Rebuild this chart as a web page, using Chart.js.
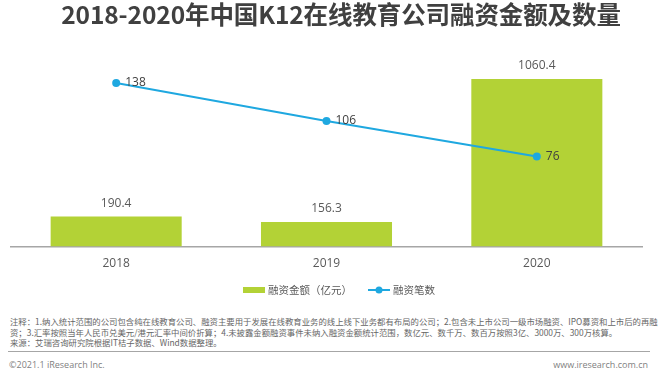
<!DOCTYPE html>
<html>
<head>
<meta charset="utf-8">
<script src="https://cdn.jsdelivr.net/npm/chart.js@4.4.0/dist/chart.umd.min.js"></script>
<style>
    body { margin: 0; background: #fff; }
    #wrap { position: relative; width: 660px; height: 377px; overflow: hidden; font-family: "Noto Sans CJK SC", "Open Sans", sans-serif; }
    #title { position: absolute; left: 0; width: 682px; top: -1px; text-align: center; font-size: 24.5px; font-weight: bold; color: #404040; line-height: 30px; letter-spacing: -0.1px; }
    #chartBox { position: absolute; left: 0; top: 0; width: 660px; height: 290px; }
    #legend { position: absolute; left: 0; width: 678px; top: 282px; display: flex; justify-content: center; align-items: center; font-size: 10.5px; color: #595959; }
    .lg-item { display: flex; align-items: center; margin: 0 8px; }
    .lg-item canvas { margin-right: 3px; }
    #notes { position: absolute; left: 10px; top: 316px; font-size: 8.4px; line-height: 10.5px; color: #666; white-space: nowrap; }
    #rule { position: absolute; left: 8px; right: 10px; top: 351px; height: 0; border-top: 1.5px solid #a6a6a6; }
    #copy { position: absolute; left: 9px; top: 358px; font-size: 9px; color: #7f7f7f; font-family: "Open Sans", sans-serif; }
    #site { position: absolute; right: 12px; top: 358px; font-size: 9px; color: #7f7f7f; font-family: "Open Sans", sans-serif; }
</style>
</head>
<body>
<div id="wrap">
    <div id="chartBox"><canvas id="fundingChart"></canvas></div>
    <div id="title">2018-2020年中国K12在线教育公司融资金额及数量</div>
    <div id="legend"></div>
    <div id="notes">注释：1.纳入统计范围的公司包含纯在线教育公司、融资主要用于发展在线教育业务的线上线下业务都有布局的公司；2.包含未上市公司一级市场融资、IPO募资和上市后的再融<br>资；3.汇率按照当年人民币兑美元/港元汇率中间价折算；4.未披露金额融资事件未纳入融资金额统计范围，数亿元、数千万、数百万按照3亿、3000万、300万核算。<br>来源：艾瑞咨询研究院根据IT桔子数据、Wind数据整理。</div>
    <div id="rule"></div>
    <div id="copy">©2021.1 iResearch Inc.</div>
    <div id="site">www.iresearch.com.cn</div>
</div>
<script>
// Chart data
const years = ['2018', '2019', '2020'];
const fundingAmount = [190.4, 156.3, 1060.4];   // 融资金额（亿元）
const fundingCount = [138, 106, 76];            // 融资笔数

const barLabel = '融资金额（亿元）';
const lineLabel = '融资笔数';
const barColor = '#b3d236';
const lineColor = '#1fa8e0';

// Value labels drawn next to bars and points
const valueLabels = {
    id: 'valueLabels',
    afterDatasetsDraw(chart) {
        const ctx = chart.ctx;
        ctx.save();
        ctx.font = '12px "Open Sans", "Noto Sans CJK SC", sans-serif';
        ctx.textBaseline = 'middle';

        const barMeta = chart.getDatasetMeta(1);
        ctx.fillStyle = '#595959';
        ctx.textAlign = 'center';
        barMeta.data.forEach((bar, i) => {
            ctx.fillText(fundingAmount[i].toFixed(1), bar.x, bar.y - 13);
        });

        const lineMeta = chart.getDatasetMeta(0);
        ctx.fillStyle = '#404040';
        ctx.textAlign = 'left';
        lineMeta.data.forEach((pt, i) => {
            ctx.fillText(String(fundingCount[i]), pt.x + 9, pt.y);
        });
        ctx.restore();
    }
};

function initializeFundingChart() {
    const ctx = document.getElementById('fundingChart');
    if (!ctx) return;

    new Chart(ctx, {
        data: {
            labels: years,
            datasets: [{
                type: 'line',
                label: lineLabel,
                data: fundingCount,
                yAxisID: 'yCount',
                borderColor: lineColor,
                backgroundColor: lineColor,
                borderWidth: 2,
                pointRadius: 4,
                pointHoverRadius: 4,
                pointBorderWidth: 0,
                tension: 0,
                order: 0
            }, {
                type: 'bar',
                label: barLabel,
                data: fundingAmount,
                yAxisID: 'yAmount',
                backgroundColor: barColor,
                categoryPercentage: 1,
                barPercentage: 0.623,
                order: 1
            }]
        },
        options: {
            responsive: true,
            maintainAspectRatio: false,
            animation: false,
            layout: {
                padding: { top: 57, left: 11, right: 18, bottom: 9 }
            },
            scales: {
                x: {
                    grid: { display: false, drawTicks: false },
                    border: { display: true, color: '#a6a6a6', width: 1.5 },
                    ticks: {
                        color: '#595959',
                        padding: 10,
                        font: { size: 12, family: '"Open Sans", "Noto Sans CJK SC", sans-serif' }
                    }
                },
                yAmount: {
                    display: false,
                    min: 0,
                    max: 1200
                },
                yCount: {
                    display: false,
                    min: 0,
                    max: 160
                }
            },
            plugins: {
                legend: { display: false },
                tooltip: { enabled: false }
            }
        },
        plugins: [valueLabels]
    });
}

// Legend icons drawn on small canvases
function makeIcon(kind) {
    const c = document.createElement('canvas');
    c.width = 22;
    c.height = 10;
    const g = c.getContext('2d');
    if (kind === 'bar') {
        g.fillStyle = barColor;
        g.fillRect(0, 2, 22, 6);
    } else {
        g.strokeStyle = lineColor;
        g.lineWidth = 2;
        g.beginPath();
        g.moveTo(0, 5);
        g.lineTo(22, 5);
        g.stroke();
        g.fillStyle = lineColor;
        g.beginPath();
        g.arc(11, 5, 3.5, 0, Math.PI * 2);
        g.fill();
    }
    return c;
}

function buildLegend() {
    const legend = document.getElementById('legend');
    [['bar', barLabel], ['line', lineLabel]].forEach(([kind, text]) => {
        const item = document.createElement('div');
        item.className = 'lg-item';
        item.appendChild(makeIcon(kind));
        const span = document.createElement('span');
        span.textContent = text;
        item.appendChild(span);
        legend.appendChild(item);
    });
}

initializeFundingChart();
buildLegend();
</script>
</body>
</html>
